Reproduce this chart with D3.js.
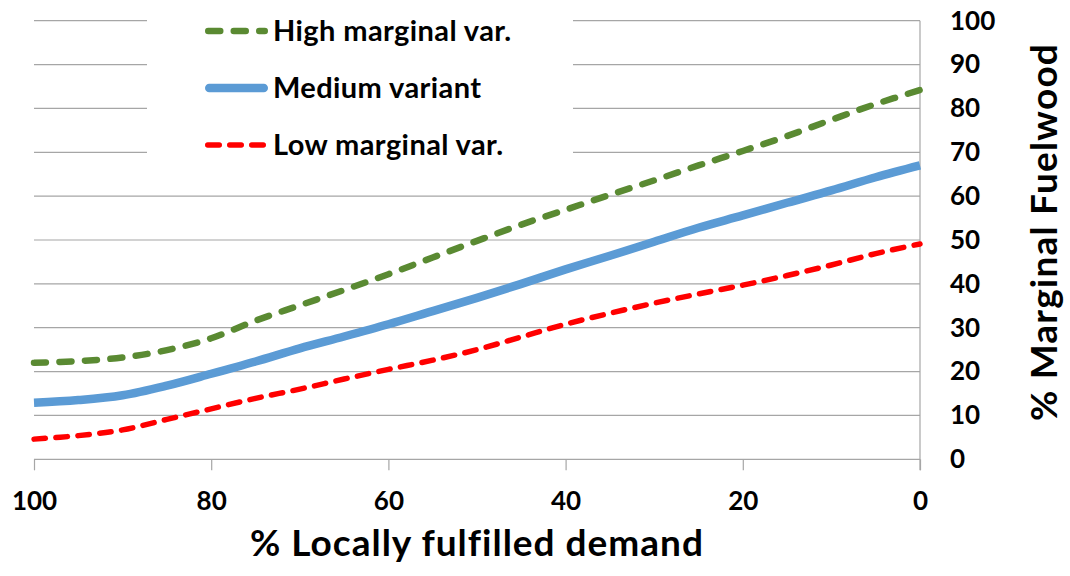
<!DOCTYPE html>
<html lang="en">
<head>
<meta charset="UTF-8">
<title>Marginal Fuelwood vs Locally fulfilled demand</title>
<script src="https://d3js.org/d3.v7.min.js"></script>
<style>
  body { margin: 0; background: #fff; }
  text { font-family: Lato, "Open Sans", sans-serif; font-weight: bold; fill: #000; }
</style>
</head>
<body>
<div id="chart"></div>
<script>
// x values: % locally fulfilled demand (axis runs 100 -> 0)
const demand = [100, 95, 90, 85, 80, 75, 70, 65, 60, 55, 50, 45, 40, 35, 30, 25, 20, 15, 10, 5, 0];
// % marginal fuelwood for each variant
const highVar   = [22.0, 22.4, 23.2, 24.9, 27.6, 31.6, 35.1, 38.6, 42.2, 46.0, 49.8, 53.5, 56.9, 60.3, 63.6, 67.0, 70.3, 73.7, 77.4, 81.0, 84.2];
const mediumVar = [12.9, 13.5, 14.6, 16.8, 19.5, 22.3, 25.3, 28.0, 30.8, 33.8, 36.8, 40.0, 43.3, 46.4, 49.6, 52.8, 55.6, 58.5, 61.3, 64.3, 67.0];
const lowVar    = [4.6, 5.4, 6.7, 9.1, 11.5, 13.9, 16.0, 18.3, 20.5, 22.6, 25.0, 27.9, 30.8, 33.3, 35.6, 37.7, 39.7, 41.9, 44.3, 46.9, 49.1];

const seriesNames = ['High marginal var.', 'Medium variant', 'Low marginal var.'];
const xTicks = [100, 80, 60, 40, 20, 0];
const yTicks = [0, 10, 20, 30, 40, 50, 60, 70, 80, 90, 100];

const W = 1070, H = 576;
const margin = { top: 20.7, right: 150, bottom: 116.7, left: 34 };
const plotW = W - margin.left - margin.right;
const plotH = H - margin.top - margin.bottom;

const svg = d3.select('#chart').append('svg')
  .attr('width', W)
  .attr('height', H);

const g = svg.append('g')
  .attr('transform', `translate(${margin.left},${margin.top})`);

const x = d3.scaleLinear().domain([100, 0]).range([0, plotW]);
const y = d3.scaleLinear().domain([0, 100]).range([plotH, 0]);

// horizontal gridlines
g.append('g')
  .selectAll('line')
  .data(yTicks)
  .join('line')
  .attr('x1', 0)
  .attr('x2', plotW)
  .attr('y1', d => y(d))
  .attr('y2', d => y(d))
  .attr('stroke', '#a6a6a6')
  .attr('stroke-width', 1.2);

// bottom axis (ticks only, labels below)
const xAxis = g.append('g')
  .attr('transform', `translate(0,${plotH})`)
  .call(d3.axisBottom(x).tickValues(xTicks).tickSize(11).tickPadding(21).tickFormat(d3.format('d')));
xAxis.select('.domain').remove();
xAxis.selectAll('line').attr('stroke', '#a6a6a6').attr('stroke-width', 1.2);
xAxis.selectAll('text').style('font-size', '26px').attr('fill', '#000');

// right axis
const yAxis = g.append('g')
  .attr('transform', `translate(${plotW},0)`)
  .call(d3.axisRight(y).tickValues(yTicks).tickSize(0).tickPadding(30));
yAxis.select('.domain').remove();
yAxis.selectAll('text').style('font-size', '26px').attr('fill', '#000').attr('text-anchor', 'start');

g.append('line')
  .attr('x1', plotW).attr('x2', plotW)
  .attr('y1', 0).attr('y2', plotH + 11)
  .attr('stroke', '#a6a6a6')
  .attr('stroke-width', 1.2);

// axis titles
svg.append('text')
  .attr('x', 477)
  .attr('y', 556)
  .attr('text-anchor', 'middle')
  .style('font-size', '37px')
  .style('letter-spacing', '1px')
  .text('% Locally fulfilled demand');

svg.append('text')
  .attr('transform', 'translate(1057,232) rotate(-90)')
  .attr('text-anchor', 'middle')
  .style('font-size', '37px')
  .style('letter-spacing', '1.2px')
  .text('% Marginal Fuelwood');

// legend background hides the gridlines behind it
const legendX = 147 - margin.left;
g.append('rect')
  .attr('x', legendX)
  .attr('y', -margin.top)
  .attr('width', 426)
  .attr('height', 175)
  .attr('fill', '#fff');

const styles = [
  { color: '#5a8a32', width: 6.5, dash: '12,13.5' },
  { color: '#5b9bd5', width: 8.5, dash: null },
  { color: '#ff0000', width: 5.5, dash: '11.5,10.5' }
];
const seriesData = [highVar, mediumVar, lowVar];

const line = d3.line()
  .x((d, i) => x(demand[i]))
  .y(d => y(d))
  .curve(d3.curveCatmullRom.alpha(0.5));

seriesData.forEach((vals, k) => {
  g.append('path')
    .datum(vals)
    .attr('d', line)
    .attr('fill', 'none')
    .attr('stroke', styles[k].color)
    .attr('stroke-width', styles[k].width)
    .attr('stroke-linecap', styles[k].dash ? 'round' : 'butt')
    .attr('stroke-dasharray', styles[k].dash);
});

// legend entries
const legendRows = [31, 88, 145];
const legend = svg.append('g');
seriesNames.forEach((name, k) => {
  const s = styles[k];
  legend.append('line')
    .attr('x1', 205 + s.width / 2)
    .attr('x2', 268 - s.width / 2)
    .attr('y1', legendRows[k])
    .attr('y2', legendRows[k])
    .attr('stroke', s.color)
    .attr('stroke-width', s.width)
    .attr('stroke-linecap', 'round')
    .attr('stroke-dasharray', s.dash);
  legend.append('text')
    .attr('x', 273)
    .attr('y', legendRows[k])
    .attr('dy', '0.36em')
    .style('font-size', '29px')
    .style('letter-spacing', '0.4px')
    .text(name);
});
</script>
</body>
</html>
